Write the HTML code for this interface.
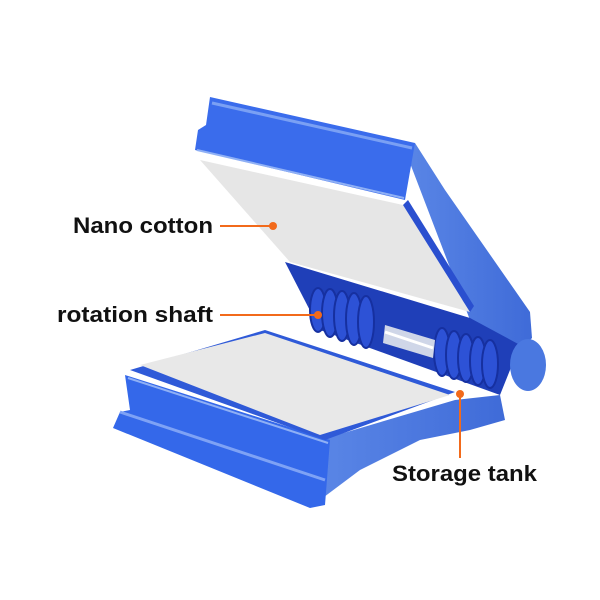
<!DOCTYPE html>
<html><head><style>
html,body{margin:0;padding:0;background:#fff;}
svg{display:block}
text{font-family:"Liberation Sans",sans-serif;font-size:22px;font-weight:bold;fill:#111;}
</style></head><body>
<svg width="600" height="600" viewBox="0 0 600 600">
<defs>
<linearGradient id="b2" x1="0" y1="0" x2="1" y2="0"><stop offset="0" stop-color="#5a86e6"/><stop offset="1" stop-color="#3f6bd8"/></linearGradient>
</defs>
<polygon points="405,150 415,143 445,190 530,312 532,338 510,360 470,320" fill="url(#b2)"/>
<polygon points="285,262 470,318 520,345 500,395 320,330" fill="#1f3fb8"/>
<g fill="#2d52d6" stroke="#1630a0" stroke-width="2">
<ellipse cx="318" cy="310" rx="8" ry="22"/><ellipse cx="330" cy="313" rx="8" ry="24"/><ellipse cx="342" cy="316" rx="8" ry="25"/><ellipse cx="354" cy="319" rx="8" ry="26"/><ellipse cx="366" cy="322" rx="8" ry="26"/>
<ellipse cx="442" cy="352" rx="8" ry="24"/><ellipse cx="454" cy="355" rx="8" ry="24"/><ellipse cx="466" cy="358" rx="8" ry="24"/><ellipse cx="478" cy="361" rx="8" ry="24"/><ellipse cx="490" cy="364" rx="8" ry="24"/>
</g>
<polygon points="385,325 435,340 433,358 383,343" fill="#cfd6e8"/>
<line x1="385" y1="332" x2="433" y2="348" stroke="#fff" stroke-width="3"/>
<ellipse cx="528" cy="365" rx="18" ry="26" fill="#4a78e0"/>
<polygon points="210,97 415,143 405,200 195,150 198,130 206,125" fill="#3a6cec"/>
<line x1="212" y1="103" x2="412" y2="148" stroke="#7aa0f4" stroke-width="3"/>
<line x1="197" y1="150" x2="404" y2="198" stroke="#8fb0f5" stroke-width="2"/>
<polygon points="200,160 403,205 470,312 290,262" fill="#e6e6e6"/>
<polygon points="403,205 470,312 474,306 408,200" fill="#2a4fcf"/>
<polygon points="320,440 455,400 500,395 505,420 470,430 420,440 360,470 320,500" fill="url(#b2)"/>
<polygon points="125,375 330,440 325,505 310,508 113,428 120,412 130,410" fill="#3468ea"/>
<line x1="120" y1="412" x2="325" y2="480" stroke="#7ea2f5" stroke-width="3"/>
<line x1="128" y1="378" x2="328" y2="443" stroke="#8fb0f5" stroke-width="2"/>
<polygon points="130,370 265,330 455,392 325,440" fill="#2f5ad8"/>
<polygon points="140,365 265,333 450,395 320,435" fill="#e8e8e8"/>
<text x="73" y="233" textLength="140" lengthAdjust="spacingAndGlyphs">Nano cotton</text>
<line x1="220" y1="226" x2="273" y2="226" stroke="#f26a1b" stroke-width="2"/>
<circle cx="273" cy="226" r="4" fill="#f26a1b"/>
<text x="57" y="322" textLength="156" lengthAdjust="spacingAndGlyphs">rotation shaft</text>
<line x1="220" y1="315" x2="318" y2="315" stroke="#f26a1b" stroke-width="2"/>
<circle cx="318" cy="315" r="4" fill="#f26a1b"/>
<text x="392" y="481" textLength="145" lengthAdjust="spacingAndGlyphs">Storage tank</text>
<line x1="460" y1="394" x2="460" y2="458" stroke="#f26a1b" stroke-width="2"/>
<circle cx="460" cy="394" r="4" fill="#f26a1b"/>
</svg>
</body></html>
